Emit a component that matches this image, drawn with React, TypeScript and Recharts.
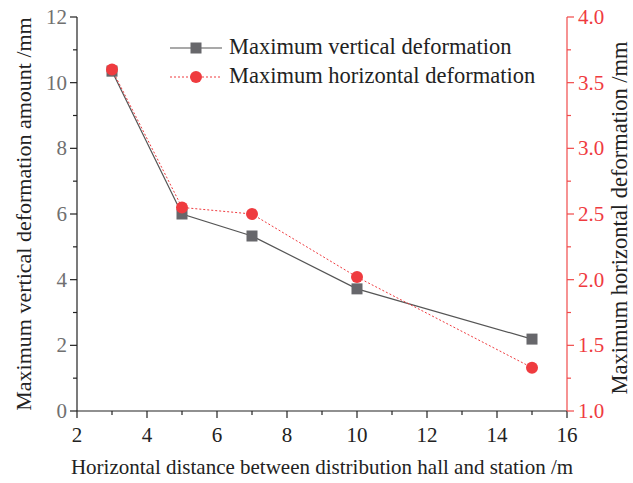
import { LineChart, Line, XAxis, YAxis, Legend, Label } from 'recharts';

const distances = [3, 5, 7, 10, 15];
const verticalDeformation = [10.35, 6.0, 5.33, 3.72, 2.19];
const horizontalDeformation = [3.6, 2.55, 2.5, 2.02, 1.33];

const xTicks = [2, 3, 4, 5, 6, 7, 8, 9, 10, 11, 12, 13, 14, 15, 16];
const xLabelled = [2, 4, 6, 8, 10, 12, 14, 16];
const leftTicks = [0, 1, 2, 3, 4, 5, 6, 7, 8, 9, 10, 11, 12];
const leftLabelled = [0, 2, 4, 6, 8, 10, 12];
const rightTicks = [1, 1.25, 1.5, 1.75, 2, 2.25, 2.5, 2.75, 3, 3.25, 3.5, 3.75, 4];
const rightLabelled = [1, 1.5, 2, 2.5, 3, 3.5, 4];

const data = distances.map((d, i) => ({
  x: d,
  vertical: verticalDeformation[i],
  horizontal: horizontalDeformation[i],
}));

const FONT = 'Liberation Serif, DejaVu Serif, serif';
const INK = '#222';
const GREY_TEXT = '#707070';
const RED = '#ef3b3f';
const RED_AXIS = '#f04a4a';
const SQUARE = '#67676b';

function BottomTick({ x, y, payload }: any) {
  const major = xLabelled.includes(payload.value);
  return (
    <g>
      <line x1={x} y1={y} x2={x} y2={y + (major ? 7 : 4)} stroke={INK} strokeWidth={1.2} />
      {major && (
        <text x={x} y={y + 31} textAnchor="middle" style={{ fontFamily: FONT }} fontSize={21} fill={INK}>
          {payload.value}
        </text>
      )}
    </g>
  );
}

function TopTick({ x, y, payload }: any) {
  const major = xLabelled.includes(payload.value);
  return <line x1={x} y1={y} x2={x} y2={y + (major ? 7 : 4)} stroke={INK} strokeWidth={1.2} />;
}

function LeftTick({ x, y, payload }: any) {
  const major = leftLabelled.includes(payload.value);
  return (
    <g>
      <line x1={x} y1={y} x2={x - (major ? 7 : 4)} y2={y} stroke={INK} strokeWidth={1.2} />
      {major && (
        <text x={x - 10} y={y + 7} textAnchor="end" style={{ fontFamily: FONT }} fontSize={21} fill={GREY_TEXT}>
          {payload.value}
        </text>
      )}
    </g>
  );
}

function RightTick({ x, y, payload }: any) {
  const major = rightLabelled.includes(payload.value);
  return (
    <g>
      <line x1={x} y1={y} x2={x + (major ? 7 : 4)} y2={y} stroke={RED_AXIS} strokeWidth={1.2} />
      {major && (
        <text x={x + 11} y={y + 7} textAnchor="start" style={{ fontFamily: FONT }} fontSize={21} fill={RED}>
          {payload.value.toFixed(1)}
        </text>
      )}
    </g>
  );
}

function SquareDot({ cx, cy, index }: any) {
  return <rect key={`sq-${index}`} x={cx - 5.5} y={cy - 5.5} width={11} height={11} fill={SQUARE} />;
}

function LegendBox() {
  const row = { display: 'flex', alignItems: 'center', height: 29 } as const;
  return (
    <div style={{ fontFamily: FONT, fontSize: 22.5, color: INK, lineHeight: 1 }}>
      <div style={row}>
        <svg width={54} height={14}>
          <line x1={0} y1={7} x2={52} y2={7} stroke="#555" strokeWidth={1.2} />
          <rect x={20.5} y={1.5} width={11} height={11} fill={SQUARE} />
        </svg>
        <span style={{ marginLeft: 5 }}>Maximum vertical deformation</span>
      </div>
      <div style={row}>
        <svg width={54} height={14}>
          <line x1={0} y1={7} x2={52} y2={7} stroke={RED} strokeWidth={1} strokeDasharray="2 2" />
          <circle cx={26} cy={7} r={6} fill={RED} />
        </svg>
        <span style={{ marginLeft: 5 }}>Maximum horizontal deformation</span>
      </div>
    </div>
  );
}

// vertical axis title, rotated to read bottom-to-top
function RotatedLabel({ viewBox, value, dx, dy = 0, size = 21 }: any) {
  const cx = viewBox.x + dx;
  const cy = viewBox.y + viewBox.height / 2 + dy;
  return (
    <text
      x={cx}
      y={cy}
      transform={`rotate(-90, ${cx}, ${cy})`}
      textAnchor="middle"
      style={{ fontFamily: FONT }}
      fontSize={size}
      fill={INK}
    >
      {value}
    </text>
  );
}

export default function App() {
  return (
    <div style={{ position: 'absolute', left: 0, top: 0, background: '#fff' }}>
      <LineChart width={633} height={483} data={data} margin={{ top: 17, right: 0, bottom: 0, left: 0 }}>
        <XAxis
          dataKey="x"
          type="number"
          domain={[2, 16]}
          ticks={xTicks}
          interval={0}
          tickSize={0}
          tickMargin={0}
          tick={<BottomTick />}
          tickLine={false}
          axisLine={{ stroke: INK, strokeWidth: 1.2 }}
          height={72}
        >
          <Label
            content={({ viewBox }: any) => (
              <text
                x={viewBox.x + viewBox.width / 2}
                y={viewBox.y + 63}
                textAnchor="middle"
                style={{ fontFamily: FONT }}
                fontSize={21}
                fill={INK}
              >
                Horizontal distance between distribution hall and station /m
              </text>
            )}
          />
        </XAxis>
        <XAxis
          xAxisId="top"
          orientation="top"
          type="number"
          domain={[2, 16]}
          ticks={xTicks}
          interval={0}
          tickSize={0}
          tickMargin={0}
          tick={<TopTick />}
          tickLine={false}
          axisLine={{ stroke: INK, strokeWidth: 1.2 }}
          height={0}
        />
        <YAxis
          yAxisId="left"
          domain={[0, 12]}
          ticks={leftTicks}
          interval={0}
          tickSize={0}
          tickMargin={0}
          tick={<LeftTick />}
          tickLine={false}
          axisLine={{ stroke: INK, strokeWidth: 1.2 }}
          width={77}
        >
          <Label
            content={(p: any) => (
              <RotatedLabel {...p} value="Maximum vertical deformation amount /mm" dx={31} size={22} />
            )}
          />
        </YAxis>
        <YAxis
          yAxisId="right"
          orientation="right"
          domain={[1, 4]}
          ticks={rightTicks}
          interval={0}
          tickSize={0}
          tickMargin={0}
          tick={<RightTick />}
          tickLine={false}
          axisLine={{ stroke: RED_AXIS, strokeWidth: 1.2 }}
          width={66}
        >
          <Label
            content={(p: any) => (
              <RotatedLabel {...p} value="Maximum horizontal deformation /mm" dx={60} dy={4} size={22.5} />
            )}
          />
        </YAxis>
        <Legend
          content={<LegendBox />}
          layout="vertical"
          verticalAlign="middle"
          align="center"
          width={400}
          wrapperStyle={{ top: 33, left: 170 }}
        />
        <Line
          yAxisId="left"
          dataKey="vertical"
          type="linear"
          stroke="#555"
          strokeWidth={1.2}
          dot={<SquareDot />}
          activeDot={false}
          isAnimationActive={false}
        />
        <Line
          yAxisId="right"
          dataKey="horizontal"
          type="linear"
          stroke={RED}
          strokeWidth={1}
          strokeDasharray="2 2"
          dot={{ r: 6, fill: RED, stroke: 'none' }}
          activeDot={false}
          isAnimationActive={false}
        />
      </LineChart>
    </div>
  );
}
